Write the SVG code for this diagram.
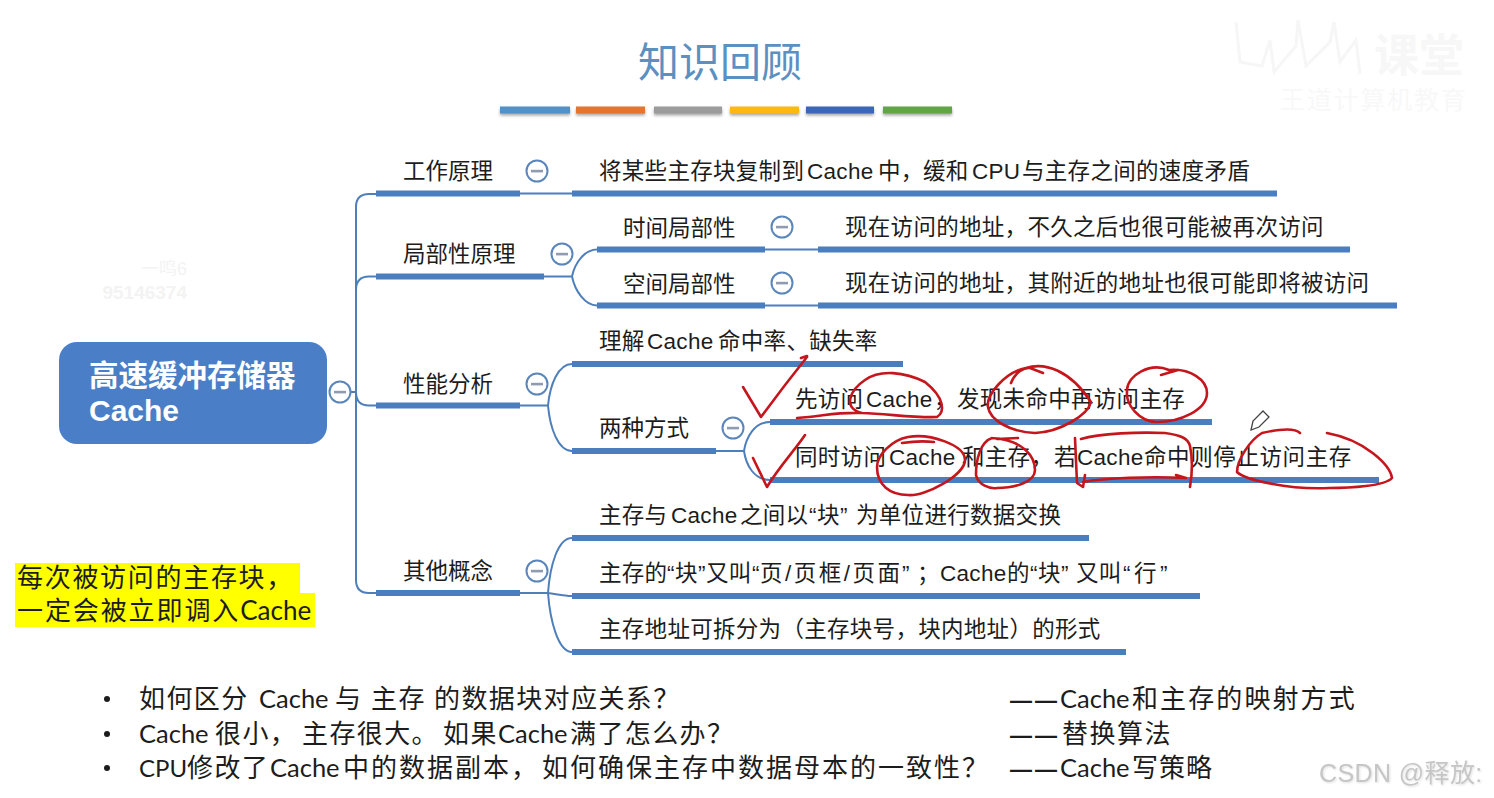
<svg xmlns="http://www.w3.org/2000/svg" width="1494" height="798" viewBox="0 0 1494 798">
<defs>
<style>
text{font-family:"Liberation Sans","Noto Sans CJK SC",sans-serif;fill:#1c1c1c}
.t{font-size:22.5px;letter-spacing:.3px}
.f{letter-spacing:0}
.b{font-size:26px;letter-spacing:1.400px}
.la{font-family:Lato,"Liberation Sans",sans-serif;font-size:25.500px;letter-spacing:0}
.d{font-size:22px;letter-spacing:3px;font-weight:700}
.bar{fill:#4a7ebf}
.c{fill:none;stroke:#4f7fbb;stroke-width:2}
.tog circle{fill:#fff;stroke:#5b86ba;stroke-width:2}
.tog rect{fill:#8f9bb0}
.ink{fill:none;stroke:#c4161c;stroke-width:2.600;stroke-linecap:round;stroke-linejoin:round}
.sw{filter:drop-shadow(0 2px 1.500px rgba(0,0,0,.35))}
</style>
<g id="m" class="tog"><circle r="10.500"/><rect x="-6" y="-1.200" width="12" height="2.600"/></g>
</defs>
<rect width="1494" height="798" fill="#fff"/>
<g id="header">
<text x="720" y="77" text-anchor="middle" style="font-family:'Noto Sans CJK SC',sans-serif;font-size:41px;fill:#5b90c2">知识回顾</text>
<g class="sw">
<rect x="500" y="106.500" width="70" height="7" fill="#5290c8"/>
<rect x="576" y="106.500" width="69" height="7" fill="#e4752f"/>
<rect x="654" y="106.500" width="68" height="7" fill="#9c9c9c"/>
<rect x="730" y="106.500" width="69" height="7" fill="#fdb913"/>
<rect x="806" y="106.500" width="68" height="7" fill="#3c66b8"/>
<rect x="883" y="106.500" width="69" height="7" fill="#62a544"/>
</g>
</g>
<g id="watermarks">
<path d="M1236 22L1240 62L1262 66L1270 40L1274 72L1296 46L1298 20L1306 66L1330 42L1334 22L1340 62L1356 40L1360 74" fill="none" stroke="#f6f6f6" stroke-width="3"/>
<text x="1374" y="72" style="font-size:45px;fill:#f7f7f7" font-weight="700">课堂</text>
<text x="1280" y="109" style="font-size:25px;fill:#f8f8f8" textLength="186">王道计算机教育</text>
<text x="187" y="275" text-anchor="end" style="font-size:18px;fill:#f3f3f3">一鸣6</text>
<text x="187" y="299" text-anchor="end" style="font-size:19px;fill:#f3f3f3" font-weight="700">95146374</text>
<g style="filter:drop-shadow(1px 1px 1px rgba(0,0,0,.12))">
<text x="1319" y="782" style="font-size:25px;fill:#c6c6c6;letter-spacing:.4px">CSDN @释放:</text>
</g>
</g>
<g id="connectors">
<path class="c" d="M351 392H356M356 207V580Q356 593 369 593H377M356 207Q356 194 369 194H377M356 290Q356 276.500 369 276.500H377M356 392Q356 405.500 369 405.500H377"/>
<path class="c" d="M520 193.500H572"/>
<path class="c" d="M544 276.500H572C575 262 585 249.500 597 249.500M572 276.500C575 291 585 305.500 597 305.500"/>
<path class="c" d="M765 249.500H818M765 305.500H818"/>
<path class="c" d="M520 405.500H548C550 385 558 364 572 364M548 405.500C550 428 558 451 572 451"/>
<path class="c" d="M716 451H744C746 438 754 422 770 422M744 451C746 465 754 480 770 480"/>
<path class="c" d="M520 593H548C550 565 558 538 572 538M548 593C556 594 564 596 572 596M548 593C550 620 558 652 572 652"/>
</g>
<g id="root">
<rect x="59" y="342" width="268" height="102" rx="18" fill="#4a7fc7"/>
<text x="89" y="386" style="font-size:29.500px;fill:#fff" font-weight="700">高速缓冲存储器</text>
<text x="89" y="421" style="font-size:30px;fill:#fff" font-weight="700">Cache</text>
<use href="#m" x="340" y="392"/>
</g>
<g id="n-gzyl"><text class="t f" x="403" y="179">工作原理</text><rect class="bar" x="376" y="190.500" width="144" height="6"/><use href="#m" x="537" y="171"/></g>
<g id="n-gzyl-1"><text class="t" y="179"><tspan x="599">将某些主存块复制到</tspan><tspan x="807">Cache</tspan><tspan x="878">中，</tspan><tspan x="923">缓和</tspan><tspan x="972">CPU</tspan><tspan x="1022">与主存之间的速度矛盾</tspan></text><rect class="bar" x="572" y="190.500" width="705" height="6"/></g>
<g id="n-jbx"><text class="t f" x="403" y="262">局部性原理</text><rect class="bar" x="376" y="273.500" width="168" height="6"/><use href="#m" x="562" y="254"/></g>
<g id="n-sj"><text class="t f" x="623" y="236">时间局部性</text><rect class="bar" x="597" y="246.500" width="168" height="6"/><use href="#m" x="782" y="227"/></g>
<g id="n-sj-1"><text class="t" x="845" y="235">现在访问的地址，不久之后也很可能被再次访问</text><rect class="bar" x="818" y="246.500" width="532" height="6"/></g>
<g id="n-kj"><text class="t f" x="623" y="292">空间局部性</text><rect class="bar" x="597" y="302.500" width="168" height="6"/><use href="#m" x="782" y="283"/></g>
<g id="n-kj-1"><text class="t" x="845" y="291">现在访问的地址，其附近的地址也很可能即将被访问</text><rect class="bar" x="818" y="302.500" width="579" height="6"/></g>
<g id="n-xn"><text class="t f" x="403" y="392">性能分析</text><rect class="bar" x="376" y="402.500" width="144" height="6"/><use href="#m" x="537" y="384"/></g>
<g id="n-lj"><text class="t" y="349"><tspan x="599">理解</tspan><tspan x="647">Cache</tspan><tspan x="718">命中率、缺失率</tspan></text><rect class="bar" x="572" y="361" width="331" height="6"/></g>
<g id="n-lz"><text class="t f" x="599" y="436">两种方式</text><rect class="bar" x="572" y="448" width="144" height="6"/><use href="#m" x="733" y="428"/></g>
<g id="n-lz-1"><text class="t" y="407"><tspan x="795">先访问</tspan><tspan x="866">Cache</tspan><tspan x="934">，</tspan><tspan x="957">发现未命中再访问主存</tspan></text><rect class="bar" x="770" y="419" width="442" height="6"/></g>
<g id="n-lz-2"><text class="t" y="465"><tspan x="795">同时访问</tspan><tspan x="889">Cache</tspan><tspan x="962">和主存，</tspan><tspan x="1054">若</tspan><tspan x="1077">Cache</tspan><tspan x="1144" style="letter-spacing:.6px">命中则停止访问主存</tspan></text><rect class="bar" x="770" y="477" width="609" height="6"/></g>
<g id="n-qt"><text class="t f" x="403" y="579">其他概念</text><rect class="bar" x="376" y="590" width="144" height="6"/><use href="#m" x="537" y="571"/></g>
<g id="n-qt-1"><text class="t" y="523"><tspan x="599">主存与</tspan><tspan x="671">Cache</tspan><tspan x="740">之间以</tspan><tspan x="809">“</tspan><tspan x="817">块</tspan><tspan x="840">”</tspan><tspan x="856">为单位进行数据交换</tspan></text><rect class="bar" x="572" y="535" width="517" height="6"/></g>
<g id="n-qt-2"><text class="t" y="581"><tspan x="599">主存的</tspan><tspan x="667">“</tspan><tspan x="675">块</tspan><tspan x="698">”</tspan><tspan x="706">又叫</tspan><tspan x="752">“</tspan><tspan x="760" style="letter-spacing:2.500px">页/页框/页面</tspan><tspan x="902">”</tspan><tspan x="917">；</tspan><tspan x="940">Cache</tspan><tspan x="1007">的</tspan><tspan x="1030">“</tspan><tspan x="1038">块</tspan><tspan x="1061">”</tspan><tspan x="1076">又叫</tspan><tspan x="1123">“</tspan><tspan x="1134">行</tspan><tspan x="1160">”</tspan></text><rect class="bar" x="572" y="593" width="628" height="6"/></g>
<g id="n-qt-3"><text class="t" x="599" y="637">主存地址可拆分为（主存块号，块内地址）的形式</text><rect class="bar" x="572" y="649" width="554" height="6"/></g>
<g id="highlight">
<rect x="15" y="563" width="285" height="31" fill="#ffff00"/>
<rect x="15" y="593" width="300" height="34" fill="#ffff00"/>
<text x="17" y="587" style="font-size:26px;letter-spacing:1.700px">每次被访问的主存块，</text>
<text x="17" y="620" style="font-size:26px;letter-spacing:1.900px">一定会被立即调入<tspan style="font-family:Lato,'Liberation Sans',sans-serif;letter-spacing:0">Cache</tspan></text>
</g>
<g id="bottom">
<circle cx="107" cy="699" r="3" fill="#1c1c1c"/><circle cx="107" cy="734" r="3" fill="#1c1c1c"/><circle cx="107" cy="768" r="3" fill="#1c1c1c"/>
<text class="b" y="708"><tspan x="139">如何区分</tspan><tspan class="la" x="259">Cache</tspan><tspan x="335">与</tspan><tspan x="371">主存</tspan><tspan x="434">的数据块对应关系？</tspan></text>
<text class="b" y="743"><tspan class="la" x="139">Cache</tspan><tspan x="215">很小，</tspan><tspan x="302">主存很大。</tspan><tspan x="443">如果</tspan><tspan class="la" x="498">Cache</tspan><tspan x="570">满了怎么办？</tspan></text>
<text class="b" y="777"><tspan class="la" x="139" style="font-size:24px">CPU</tspan><tspan x="187">修改了</tspan><tspan class="la" x="270">Cache</tspan><tspan x="343" style="letter-spacing:2px">中的数据副本，</tspan><tspan x="542" style="letter-spacing:2px">如何确保主存中数据母本的一致性？</tspan></text>
<text class="b" y="708"><tspan x="1010" class="d">——</tspan><tspan class="la" x="1060">Cache</tspan><tspan x="1132" style="letter-spacing:2.100px">和主存的映射方式</tspan></text>
<text class="b" y="743"><tspan x="1010" class="d">——</tspan><tspan x="1062" style="letter-spacing:1.500px">替换算法</tspan></text>
<text class="b" y="777"><tspan x="1010" class="d">——</tspan><tspan class="la" x="1060">Cache</tspan><tspan x="1132" style="letter-spacing:1px">写策略</tspan></text>
</g>
<g id="annotations">
<path class="ink" d="M743 387L761 417C775 398 795 372 807 357M801 358L807 356"/>
<path class="ink" d="M797 418C825 416 835 412 862 413S915 418 937 417C945 412 945 398 925 382C905 372 880 369 865 380C850 390 842 408 862 413"/>
<path class="ink" d="M1011 383C1015 372 1025 367 1030 368L1043 373M1026 368C1045 362 1070 370 1091 402C1088 415 1060 432 1035 433C1010 432 990 420 988 407C986 395 1005 372 1026 368"/>
<path class="ink" d="M1161 375L1178 370M1169 370C1150 362 1128 375 1127 390C1125 405 1140 422 1157 422C1180 422 1207 410 1207 393C1207 380 1190 368 1169 370"/>
<path class="ink" d="M753 458L767 487C778 468 795 450 805 435"/>
<path class="ink" d="M902 443C915 441 925 441 934 442M908 437C930 433 965 445 965 460C965 475 925 497 908 495C890 495 877 485 877 467C877 455 892 440 908 437"/>
<path class="ink" d="M997 439L1018 438M992 438C980 442 976 460 976 475C978 485 990 489 997 488C1015 488 1035 482 1035 470C1035 458 1025 440 992 438"/>
<path class="ink" d="M1075 438L1077 483L1083 487L1085 475M1081 439C1100 433 1140 432 1165 433C1180 435 1188 438 1190 446C1193 460 1192 475 1190 487M1083 482C1105 478 1150 476 1186 478L1176 475"/>
<path class="ink" d="M1300 433C1295 428 1280 429 1262 433C1250 440 1237 460 1237 472C1245 480 1290 490 1329 488C1350 488 1385 486 1392 478C1390 465 1365 440 1327 433"/>
</g>
<g id="pencil" fill="#fff" stroke="#444" stroke-width="1.300"><path d="M1251 430L1253 421L1263 411L1269 417L1259 427Z"/></g>
</svg>
